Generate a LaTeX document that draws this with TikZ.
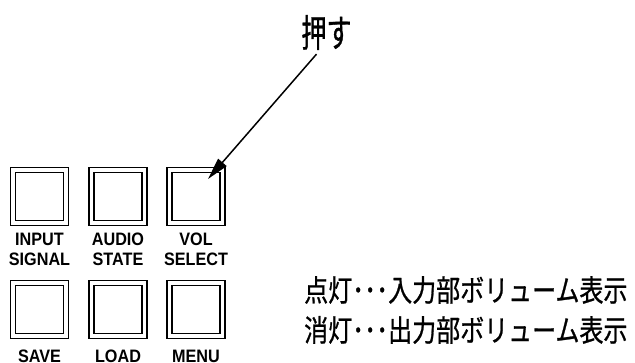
\documentclass[tikz,border=0pt]{standalone}
\usepackage{fontspec}
\usetikzlibrary{arrows.meta}
\newfontfamily\labfont{Liberation Sans}[FakeStretch=0.9]
\newfontfamily\jpfont{Noto Sans CJK JP}[FakeStretch=0.8,FakeBold=0.8]
\newfontfamily\jppush{Noto Sans CJK JP}[FakeStretch=0.66,FakeBold=0.8]
\tikzset{
  outerbox/.style={draw, line width=1.8pt, minimum width=58pt, minimum height=58pt, inner sep=0pt},
  innerbox/.style={draw, line width=1.3pt, minimum width=48pt, minimum height=48pt, inner sep=0pt},
  btnlabel/.style={inner sep=0pt, anchor=north, align=center, font=\labfont\bfseries\fontsize{18}{20}\selectfont},
  jptext/.style={inner sep=0pt, anchor=west, font=\jpfont\fontsize{30}{32}\selectfont},
}
\begin{document}
\begin{tikzpicture}[x=1pt,y=-1pt]
\useasboundingbox (0,0) rectangle (635,363);
% buttons
\foreach \n/\cx/\cy in {b1/39.5/196.5, b2/118/196.5, b3/196/196.5, b4/39.5/309.5, b5/118/309.5, b6/196/309.5}{
  \node[outerbox] (\n) at (\cx,\cy) {};
  \node[innerbox] (\n i) at (\cx,\cy) {};
}
\node[btnlabel] (l1) at (39.5,233) {INPUT\\SIGNAL};
\node[btnlabel] (l2) at (118,233) {AUDIO\\STATE};
\node[btnlabel] (l3) at (196,233) {VOL\\SELECT};
\node[btnlabel] (l4) at (39.5,350) {SAVE};
\node[btnlabel] (l5) at (118,350) {LOAD};
\node[btnlabel] (l6) at (196,350) {MENU};
% push label and arrow
\node[inner sep=0pt, font=\jppush\fontsize{38}{40}\selectfont] (push) at (326.5,32.5) {押す};
\coordinate (tip) at (208,179);
\draw[line width=1.5pt, -{Stealth[length=22pt,width=11pt,inset=0pt]}] ([xshift=-10pt,yshift=-4pt]push.south) -- (tip);
% explanation
\node[jptext] (t1) at (304,290) {点灯･･･入力部ボリューム表示};
\node[jptext] (t2) at (304,330) {消灯･･･出力部ボリューム表示};
\end{tikzpicture}
\end{document}
